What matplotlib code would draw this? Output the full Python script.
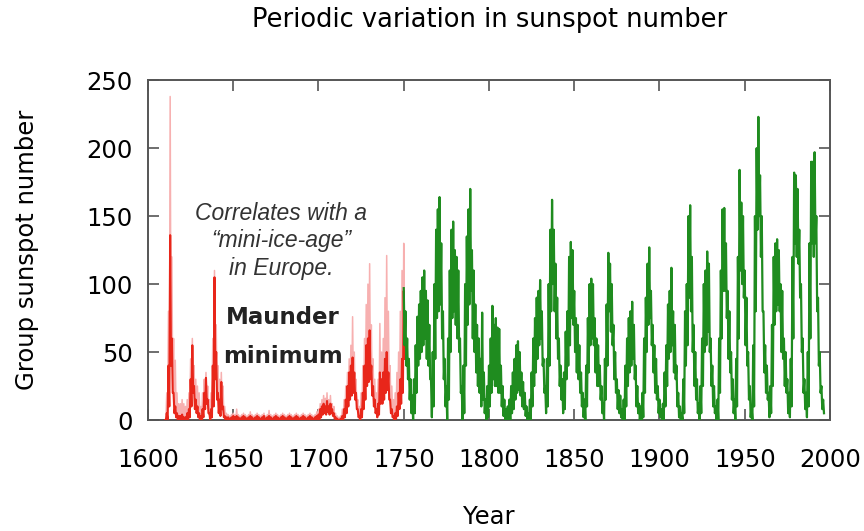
import numpy as np
import matplotlib
matplotlib.use("Agg")
import matplotlib.pyplot as plt

# ---------------- data ----------------
# Early era (1610-1750): pink = monthly spikes, red = dense band top / bottom
early_years = list(range(1610, 1751))
pink_hi = [0, 20, 80, 238, 120, 60, 44, 20, 12, 12,
           15, 12, 10, 15, 20, 45, 60, 40, 30, 25,
           20, 10, 20, 30, 35, 25, 15, 20, 60, 110,
           70, 40, 30, 35, 25, 10, 5, 4, 3, 4,
           5, 4, 8, 4, 3, 4, 5, 4, 3, 4,
           6, 4, 3, 4, 5, 4, 3, 4, 5, 3,
           4, 7, 4, 3, 4, 5, 4, 3, 4, 5,
           4, 3, 4, 5, 4, 3, 4, 5, 4, 3,
           4, 5, 4, 3, 4, 5, 4, 3, 4, 6,
           8, 12, 15, 18, 16, 20, 15, 18, 12, 10,
           5, 3, 2, 3, 8, 15, 25, 35, 45, 55,
           76, 50, 30, 15, 10, 20, 40, 60, 85, 100,
           115, 70, 45, 30, 20, 30, 71, 50, 60, 90,
           121, 80, 40, 25, 15, 20, 35, 50, 80, 110,
           130]
red_hi = [0, 5, 40, 136, 60, 20, 10, 5, 3, 3,
          4, 2, 2, 5, 8, 30, 55, 25, 15, 10,
          5, 3, 8, 20, 31, 15, 5, 8, 40, 105,
          50, 20, 15, 28, 10, 3, 2, 2, 1, 2,
          3, 2, 3, 2, 1, 2, 3, 2, 1, 2,
          3, 2, 1, 2, 3, 2, 1, 2, 3, 1,
          2, 3, 2, 1, 2, 3, 2, 1, 2, 3,
          2, 1, 2, 3, 2, 1, 2, 3, 2, 1,
          2, 3, 2, 1, 2, 3, 2, 1, 2, 3,
          4, 8, 10, 12, 10, 14, 10, 12, 8, 5,
          2, 1, 0, 1, 3, 8, 15, 25, 35, 40,
          46, 35, 20, 8, 3, 8, 20, 40, 55, 60,
          66, 40, 25, 15, 8, 12, 35, 30, 35, 45,
          50, 35, 15, 8, 3, 5, 10, 20, 30, 45,
          95]
red_lo = [0, 0, 10, 40, 20, 5, 2, 0, 0, 0,
          0, 0, 0, 0, 2, 10, 20, 8, 5, 2,
          0, 0, 2, 8, 12, 5, 0, 2, 10, 30,
          15, 5, 3, 8, 2, 0, 0, 0, 0, 0,
          0, 0, 0, 0, 0, 0, 0, 0, 0, 0,
          0, 0, 0, 0, 0, 0, 0, 0, 0, 0,
          0, 0, 0, 0, 0, 0, 0, 0, 0, 0,
          0, 0, 0, 0, 0, 0, 0, 0, 0, 0,
          0, 0, 0, 0, 0, 0, 0, 0, 0, 0,
          0, 2, 4, 5, 4, 6, 4, 5, 3, 1,
          0, 0, 0, 0, 0, 2, 5, 10, 15, 18,
          20, 15, 8, 2, 0, 2, 8, 15, 25, 28,
          30, 18, 10, 5, 2, 4, 12, 12, 15, 20,
          22, 15, 5, 2, 0, 1, 3, 8, 12, 20,
          45]

# Modern era (1750-1996): upper and lower edge of the monthly band per year
late_years = list(range(1750, 1997))
green_hi = [97, 80, 60, 45, 30, 18, 30, 55, 76, 85,
            95, 105, 110, 95, 88, 70, 30, 50, 100, 140,
            155, 164, 130, 80, 45, 25, 60, 110, 140, 146,
            125, 120, 110, 60, 25, 40, 100, 135, 155, 170,
            125, 110, 85, 70, 60, 45, 79, 35, 15, 25,
            40, 60, 84, 70, 75, 68, 67, 40, 25, 15,
            8, 10, 15, 25, 35, 45, 55, 58, 50, 35,
            28, 20, 10, 5, 15, 35, 60, 75, 90, 95,
            103, 80, 45, 25, 45, 100, 140, 162, 140, 115,
            90, 60, 40, 30, 35, 65, 80, 120, 131, 125,
            95, 75, 70, 55, 35, 20, 15, 40, 75, 100,
            104, 100, 75, 60, 55, 40, 25, 12, 45, 85,
            123, 115, 100, 70, 50, 30, 22, 18, 8, 15,
            40, 60, 75, 80, 87, 70, 40, 25, 12, 10,
            20, 60, 90, 115, 127, 95, 70, 55, 45, 25,
            15, 8, 12, 35, 55, 85, 95, 112, 80, 70,
            40, 20, 10, 5, 30, 80, 100, 150, 158, 120,
            70, 50, 30, 12, 25, 60, 100, 110, 124, 115,
            60, 40, 25, 10, 15, 60, 110, 155, 156, 130,
            95, 80, 50, 30, 15, 45, 120, 184, 160, 150,
            110, 90, 50, 25, 10, 55, 150, 200, 223, 180,
            150, 80, 55, 40, 20, 25, 70, 120, 130, 133,
            125, 100, 95, 60, 50, 30, 20, 45, 120, 182,
            180, 170, 140, 100, 60, 30, 20, 50, 130, 190,
            190, 197, 150, 90, 50, 25, 15]
green_lo = [55, 40, 30, 15, 5, 0, 5, 20, 40, 45,
            50, 55, 60, 45, 40, 30, 2, 10, 45, 75,
            80, 85, 60, 30, 10, 0, 15, 50, 75, 80,
            70, 60, 50, 20, 0, 5, 40, 70, 85, 95,
            60, 50, 35, 25, 20, 10, 15, 5, 0, 2,
            10, 20, 30, 25, 25, 20, 20, 10, 3, 0,
            0, 0, 0, 5, 8, 15, 20, 22, 18, 10,
            8, 3, 0, 0, 0, 10, 25, 35, 45, 55,
            60, 40, 20, 5, 10, 40, 80, 100, 80, 60,
            45, 25, 15, 5, 8, 30, 40, 55, 75, 70,
            50, 35, 30, 20, 10, 2, 0, 10, 35, 55,
            60, 55, 35, 25, 25, 15, 5, 0, 15, 40,
            80, 65, 55, 30, 20, 8, 5, 2, 0, 0,
            10, 25, 35, 40, 45, 30, 10, 5, 0, 0,
            2, 20, 50, 70, 75, 55, 35, 20, 15, 5,
            2, 0, 0, 10, 25, 45, 50, 55, 35, 30,
            10, 2, 0, 0, 5, 40, 55, 90, 80, 50,
            25, 15, 5, 0, 5, 25, 50, 55, 65, 50,
            25, 10, 5, 0, 0, 20, 60, 95, 95, 75,
            45, 35, 15, 5, 0, 10, 60, 110, 100, 90,
            55, 40, 15, 2, 0, 10, 80, 140, 150, 120,
            80, 35, 20, 15, 2, 5, 25, 70, 80, 85,
            80, 50, 45, 25, 20, 5, 2, 10, 60, 130,
            120, 115, 90, 50, 20, 8, 2, 10, 60, 130,
            120, 130, 80, 40, 20, 8, 5]

x_ticks = [1600, 1650, 1700, 1750, 1800, 1850, 1900, 1950, 2000]
y_ticks = [0, 50, 100, 150, 200, 250]


def interleave(years, hi, lo):
    xs, ys = [], []
    for yr, h, l in zip(years, hi, lo):
        xs += [yr, yr + 0.5]
        ys += [h, l]
    return xs, ys


fig = plt.figure(figsize=(8.64, 5.31), dpi=100)
ax = fig.add_axes([0.1713, 0.209, 0.7893, 0.640])

px, py = interleave(early_years, pink_hi, red_lo)
ax.plot(px, py, color="#f7b0b0", lw=1.1, zorder=2)
rx, ry = interleave(early_years, red_hi, red_lo)
ax.plot(rx, ry, color="#e8261a", lw=1.5, zorder=3)
gx, gy = interleave(late_years, green_hi, green_lo)
ax.plot(gx, gy, color="#1f8c1f", lw=1.6, zorder=4)

ax.set_xlim(1600, 2000)
ax.set_ylim(0, 250)
ax.set_xticks(x_ticks)
ax.set_yticks(y_ticks)
ax.tick_params(direction="in", length=8, width=1.2, color="#555555",
               top=True, right=True, labelsize=17.5)
ax.tick_params(axis="x", pad=20)
ax.tick_params(axis="y", pad=11)
for sp in ax.spines.values():
    sp.set_color("#555555")
    sp.set_linewidth(1.4)

ax.set_xlabel("Year", fontsize=17.5, labelpad=24)
ax.set_ylabel("Group sunspot number", fontsize=17.5, labelpad=34)
fig.text(0.567, 0.962, "Periodic variation in sunspot number",
         ha="center", va="center", fontsize=18.5)

ax.text(1678, 132, "Correlates with a\n\u201cmini-ice-age\u201d\nin Europe.",
        ha="center", va="center", fontsize=16.5, style="italic",
        family="Liberation Sans", color="#333333", linespacing=1.25)
ax.text(1679, 61, "Maunder\nminimum", ha="center", va="center",
        fontsize=16.5, fontweight="bold", color="#222222", linespacing=1.9)

fig.savefig("out.png", dpi=100)
